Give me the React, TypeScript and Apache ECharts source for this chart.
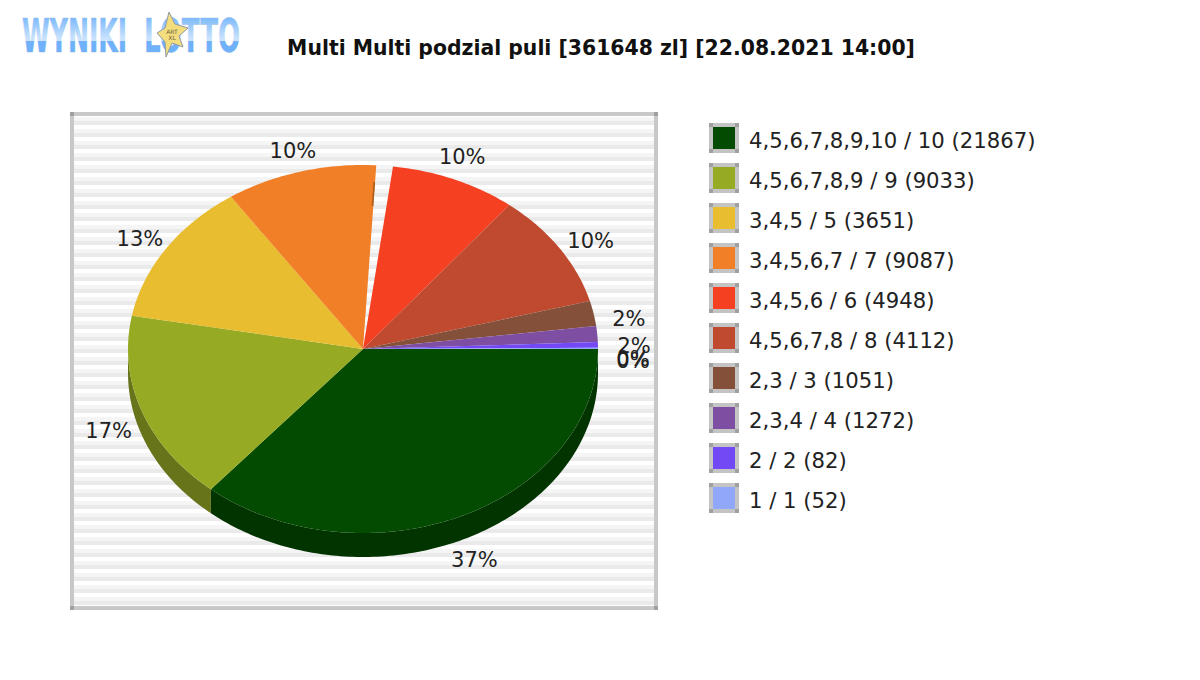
import React, { useEffect, useRef } from 'react';
import * as echarts from 'echarts';

const titleText = 'Multi Multi podzial puli [361648 zl] [22.08.2021 14:00]';
const legendNames = [
  '4,5,6,7,8,9,10 / 10 (21867)',
  '4,5,6,7,8,9 / 9 (9033)',
  '3,4,5 / 5 (3651)',
  '3,4,5,6,7 / 7 (9087)',
  '3,4,5,6 / 6 (4948)',
  '4,5,6,7,8 / 8 (4112)',
  '2,3 / 3 (1051)',
  '2,3,4 / 4 (1272)',
  '2 / 2 (82)',
  '1 / 1 (52)',
];
// share of the pool in percent
const shares = [36.2, 16.7, 12.6, 10.4, 9.8, 10.1, 2.2, 1.4, 0.5, 0.1];
// the labels as printed on the picture
const percentLabels = ['37%', '17%', '13%', '10%', '10%', '10%', '2%', '2%', '0%', '0%'];
const topColors = ['#034b00', '#97aa24', '#e9bd30', '#f07f28', '#f64022', '#bf4a2f', '#85503a', '#7e4ea3', '#7349f5', '#90a7fa'];
const sideColors = ['#023400', '#67741a', '#a08020', '#a8591c', '#ac2d18', '#863420', '#5d3828', '#583672', '#5033ac', '#6575af'];

const CX = 363;
const CY = 349;
const RX = 235;
const RY = 184;
const DEPTH = 24;
// the white wedge in front of the red slice, in degrees
const RED_GAP = 4.1;
const LABEL_FONT = '21px "DejaVu Sans"';
// small corrections to the label ring, [dx, dy] per slice
const labelNudge = [[-4, 2], [-2, -2], [1, -2], [0, 1], [1, 1], [0, 1], [-1, 1], [0, 4], [-2, 4], [-2, 2]];

const rad = (deg: number) => (deg * Math.PI) / 180;
const onEllipse = (deg: number, dy = 0) => [CX + RX * Math.cos(rad(deg)), CY + dy + RY * Math.sin(rad(deg))];

const arcPoints = (from: number, to: number, dy = 0) => {
  const pts: number[][] = [];
  const steps = Math.max(2, Math.ceil(to - from));
  for (let i = 0; i <= steps; i++) pts.push(onEllipse(from + ((to - from) * i) / steps, dy));
  return pts;
};

const renderSlice = (index: number) => (_params: any, api: any) => {
  const start = api.value(0) as number;
  const end = api.value(1) as number;
  const from = index === 4 ? start + RED_GAP : start;
  const children: any[] = [];
  // wall of the 3d pie, only the front half shows
  const wallFrom = Math.max(from, 0);
  const wallTo = Math.min(end, 180);
  if (wallTo > wallFrom) {
    const top = arcPoints(wallFrom, wallTo);
    const bottom = arcPoints(wallFrom, wallTo, DEPTH).reverse();
    children.push({
      type: 'polygon',
      shape: { points: top.concat(bottom) },
      style: { fill: sideColors[index] },
    });
  }
  children.push({
    type: 'polygon',
    shape: { points: [[CX, CY], ...arcPoints(from, end)] },
    style: { fill: topColors[index] },
  });
  const mid = rad((start + end) / 2);
  children.push({
    type: 'text',
    style: {
      text: percentLabels[index],
      x: CX + 2 + 270 * Math.cos(mid) + labelNudge[index][0],
      y: 360 + 218 * Math.sin(mid) + labelNudge[index][1],
      align: 'center',
      verticalAlign: 'middle',
      font: LABEL_FONT,
      fill: '#222',
    },
  });
  return { type: 'group', children };
};

const buildSeries = () => {
  let acc = 0;
  return shares.map((share, i) => {
    const start = (acc / 100) * 360;
    acc += share;
    const end = (acc / 100) * 360;
    return {
      type: 'custom',
      name: legendNames[i],
      coordinateSystem: 'none',
      silent: true,
      itemStyle: { color: topColors[i], borderWidth: 0 },
      renderItem: renderSlice(i),
      data: [[start, end]],
    };
  });
};

const frameGraphics = () => {
  const out: any[] = [];
  const rect = (x: number, y: number, width: number, height: number, fill: string, z = 0) =>
    out.push({ type: 'rect', silent: true, z, shape: { x, y, width, height }, style: { fill } });
  for (let y = 117; y < 606; y += 12) {
    rect(74, y, 580, 4, '#f5f5f5');
    rect(74, y + 4, 580, 4, '#eaeaea');
  }
  rect(70, 112, 588, 4, '#c8c8c8');
  rect(70, 606, 588, 4, '#c8c8c8');
  rect(70, 112, 4, 498, '#c8c8c8');
  rect(654, 112, 4, 498, '#c8c8c8');
  [[70, 112], [654, 112], [70, 606], [654, 606]].forEach(([x, y]) => rect(x, y, 4, 4, '#a0a0a0'));
  // grey frames of the legend swatches
  legendNames.forEach((_n, i) => {
    const y = 123 + i * 40;
    rect(709, y, 30, 4, '#c4c4c4', 50);
    rect(709, y + 26, 30, 4, '#c4c4c4', 50);
    rect(709, y, 4, 30, '#c4c4c4', 50);
    rect(735, y, 4, 30, '#c4c4c4', 50);
    [[709, y], [735, y], [709, y + 26], [735, y + 26]].forEach(([cx, cy]) => rect(cx, cy, 4, 4, '#a0a0a0', 51));
  });
  // thin dark edge on the orange slice next to the wedge
  out.push({
    type: 'line',
    silent: true,
    z: 50,
    shape: { x1: 374.3, y1: 182, x2: 372.5, y2: 206 },
    style: { stroke: '#a85a1c', lineWidth: 1.5 },
  });
  return out;
};

const logoText = (text: string, x: number, scaleX: number) => ({
  type: 'text',
  silent: true,
  x,
  y: 36,
  scaleX,
  style: {
    text,
    font: 'bold 47px "DejaVu Sans"',
    verticalAlign: 'middle',
    fill: '#6fb2fb',
    stroke: '#a9b9c9',
    lineWidth: 0.6,
  },
});

const logoGraphics = () => [
  logoText('WYNIKI', 22, 0.535),
  logoText('LOTTO', 144, 0.555),
  // pale sheen over the upper part of the letters, invisible on the white page
  {
    type: 'rect',
    silent: true,
    z: 3,
    shape: { x: 18, y: 16, width: 226, height: 25 },
    style: {
      fill: new echarts.graphic.LinearGradient(0, 0, 0, 1, [
        { offset: 0, color: 'rgba(255,255,255,0.05)' },
        { offset: 0.88, color: 'rgba(255,255,255,0.62)' },
        { offset: 1, color: 'rgba(255,255,255,0.62)' },
      ]),
    },
  },
  {
    type: 'polygon',
    silent: true,
    z: 5,
    shape: {
      points: [[169, 12], [175, 24], [188, 28], [179, 36], [183, 47], [172, 43], [166, 57], [165, 42], [157, 33], [165, 28]],
    },
    style: { fill: '#f3dd7c', stroke: '#8c9aa8', lineWidth: 1 },
  },
  {
    type: 'text',
    silent: true,
    z: 6,
    x: 172,
    y: 34,
    style: {
      text: 'ART\nXL',
      font: '6px "DejaVu Sans"',
      align: 'center',
      verticalAlign: 'middle',
      fill: '#6b6340',
    },
  },
];

const App: React.FC = () => {
  const chartRef = useRef<HTMLDivElement>(null);
  useEffect(() => {
    const chart = echarts.init(chartRef.current, null, { renderer: 'svg' });
    chart.setOption({
      animation: false,
      backgroundColor: '#ffffff',
      title: {
        text: titleText,
        left: 596,
        top: 33,
        textAlign: 'center',
        textStyle: { fontFamily: 'DejaVu Sans', fontWeight: 'bold', fontSize: 20.4, color: '#111' },
      },
      legend: {
        orient: 'vertical',
        left: 713,
        top: 127,
        padding: 0,
        // swatch runs under the bottom bar of its frame, so the text sits a little lower
        itemWidth: 22,
        itemHeight: 26,
        itemGap: 14,
        icon: 'rect',
        selectedMode: false,
        textStyle: { fontFamily: 'DejaVu Sans', fontSize: 21.2, color: '#222', padding: [0, 0, 0, 9] },
        data: legendNames,
      },
      graphic: { elements: [...frameGraphics(), ...logoGraphics()] },
      series: buildSeries(),
    });
    return () => {
      chart.dispose();
    };
  }, []);

  return <div ref={chartRef} style={{ position: 'fixed', left: 0, top: 0, width: 1200, height: 680 }} />;
};

export default App;
